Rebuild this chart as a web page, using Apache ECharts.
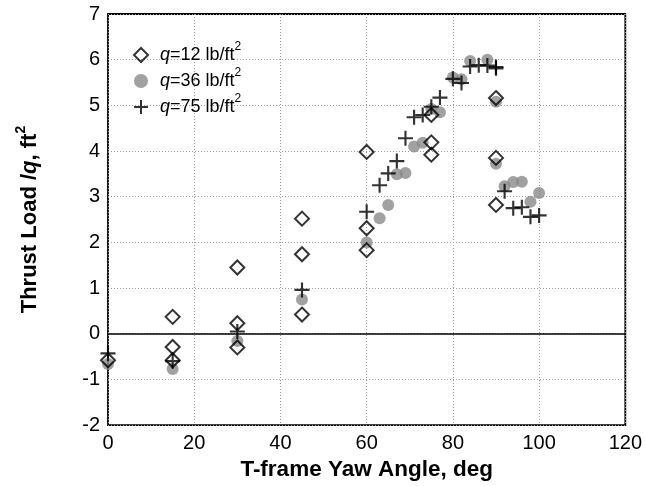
<!DOCTYPE html>
<html>
<head>
<meta charset="utf-8">
<script src="https://cdn.jsdelivr.net/npm/echarts@6/dist/echarts.min.js"></script>
<style>
  html, body { margin: 0; padding: 0; background: #fff; }
  #main { width: 645px; height: 486px; }
</style>
</head>
<body>
<div id="main"></div>
<script>
// dynamic pressure levels (lb/ft^2)
var qLevels = ['12', '36', '75']

// q = 12
var yaw12 = [0, 15, 15, 15, 30, 30, 30, 45, 45, 45, 60, 60, 60, 75, 75, 75, 90, 90, 90]
var load12 = [-0.58, 0.37, -0.29, -0.58, 1.45, 0.23, -0.30, 2.52, 1.74, 0.42, 3.98, 2.31, 1.83, 4.79, 4.19, 3.92, 5.16, 3.85, 2.82]

// q = 36
var yaw36 = [0, 15, 30, 45, 60, 63, 65, 67, 69, 71, 73, 75, 77, 80, 82, 84, 88, 90, 90, 92, 94, 96, 98, 100]
var load36 = [-0.66, -0.77, -0.16, 0.75, 2.0, 2.53, 2.82, 3.49, 3.52, 4.10, 4.18, 4.92, 4.85, 5.61, 5.57, 5.97, 6.0, 5.08, 3.72, 3.23, 3.32, 3.33, 2.89, 3.08]

// q = 75
var yaw75 = [0, 15, 30, 45, 60, 63, 65, 67, 69, 71, 73, 75, 77, 80, 82, 84, 86, 88, 90, 90, 92, 94, 96, 98, 100]
var load75 = [-0.43, -0.60, 0.05, 0.96, 2.67, 3.25, 3.51, 3.78, 4.28, 4.74, 4.79, 4.97, 5.17, 5.58, 5.49, 5.85, 5.88, 5.87, 5.84, 5.81, 3.12, 2.75, 2.77, 2.56, 2.59]

var FONT = 'Liberation Sans'

function pairs (xs, ys) {
  var out = []
  for (var i = 0; i < xs.length; i++) out.push([xs[i], ys[i]])
  return out
}
function seriesName (q) {
  return 'q=' + q + ' lb/ft2'
}

// filled plus shape
var plusPath = 'path://M-1,-7 L1,-7 L1,-1 L7,-1 L7,1 L1,1 L1,7 L-1,7 L-1,1 L-7,1 L-7,-1 L-1,-1 Z'

var myChart = echarts.init(document.getElementById('main'), null, { renderer: 'canvas' })

var option = {
  animation: false,
  backgroundColor: '#fff',
  grid: {
    left: 108,
    right: 18,
    top: 14,
    bottom: 58,
    show: true,
    borderColor: '#000',
    borderWidth: 1.8,
    backgroundColor: 'transparent'
  },
  legend: {
    orient: 'vertical',
    left: 133,
    top: 41,
    padding: 0,
    itemWidth: 14,
    itemHeight: 14,
    itemGap: 3,
    itemTextGap: 12,
    itemStyle: { borderWidth: 2 },
    data: qLevels.map(seriesName),
    formatter: function (name) {
      var q = name.split('=')[1].split(' ')[0]
      return '{i|q}{n|=' + q + ' lb/ft}{s|2}'
    },
    textStyle: {
      fontFamily: FONT,
      fontSize: 18,
      color: '#000',
      rich: {
        i: { fontFamily: FONT, fontSize: 18, fontStyle: 'italic', lineHeight: 28, verticalAlign: 'middle', padding: [0, 0, 0, 7] },
        n: { fontFamily: FONT, fontSize: 18, lineHeight: 28, verticalAlign: 'middle' },
        s: { fontFamily: FONT, fontSize: 12, lineHeight: 12, verticalAlign: 'top' }
      }
    }
  },
  xAxis: {
    type: 'value',
    min: 0,
    max: 120,
    interval: 20,
    name: 'T-frame Yaw Angle, deg',
    nameLocation: 'middle',
    nameGap: 32,
    nameTextStyle: { fontFamily: FONT, fontSize: 22.5, fontWeight: 'bold', color: '#000' },
    axisLine: { show: false },
    axisTick: { show: false },
    axisLabel: { fontFamily: FONT, fontSize: 20, color: '#000', margin: 8 },
    splitLine: { show: true, lineStyle: { color: '#999', width: 1, type: [1, 2] } }
  },
  yAxis: {
    type: 'value',
    min: -2,
    max: 7,
    interval: 1,
    name: '{n|Thrust Load /}{i|q}{n|, ft}{s|2}',
    nameLocation: 'middle',
    nameGap: 62,
    nameTextStyle: {
      fontFamily: FONT,
      fontSize: 22,
      fontWeight: 'bold',
      color: '#000',
      rich: {
        n: { fontFamily: FONT, fontSize: 22, fontWeight: 'bold', lineHeight: 32, verticalAlign: 'middle' },
        i: { fontFamily: FONT, fontSize: 22, fontWeight: 'bold', fontStyle: 'italic', lineHeight: 32, verticalAlign: 'middle' },
        s: { fontFamily: FONT, fontSize: 14, fontWeight: 'bold', lineHeight: 14, verticalAlign: 'top' }
      }
    },
    axisLine: { show: false },
    axisTick: { show: false },
    axisLabel: { fontFamily: FONT, fontSize: 20, color: '#000', margin: 8 },
    splitLine: { show: true, lineStyle: { color: '#999', width: 1, type: [1, 2] } }
  },
  series: [
    {
      name: seriesName('12'),
      type: 'scatter',
      z: 3,
      symbol: 'diamond',
      symbolSize: 14,
      itemStyle: { color: 'rgba(255,255,255,0)', borderColor: '#000', borderWidth: 2 },
      data: pairs(yaw12, load12)
    },
    {
      name: seriesName('36'),
      type: 'scatter',
      z: 2,
      symbol: 'circle',
      symbolSize: 12,
      itemStyle: { color: '#8a8a8a' },
      data: pairs(yaw36, load36),
      markLine: {
        silent: true,
        symbol: 'none',
        label: { show: false },
        lineStyle: { color: '#000', width: 1.5, type: 'solid' },
        data: [{ yAxis: 0 }]
      }
    },
    {
      name: seriesName('75'),
      type: 'scatter',
      z: 4,
      symbol: plusPath,
      symbolSize: 15,
      itemStyle: { color: '#000' },
      data: pairs(yaw75, load75)
    }
  ]
}

myChart.setOption(option)
</script>
</body>
</html>
